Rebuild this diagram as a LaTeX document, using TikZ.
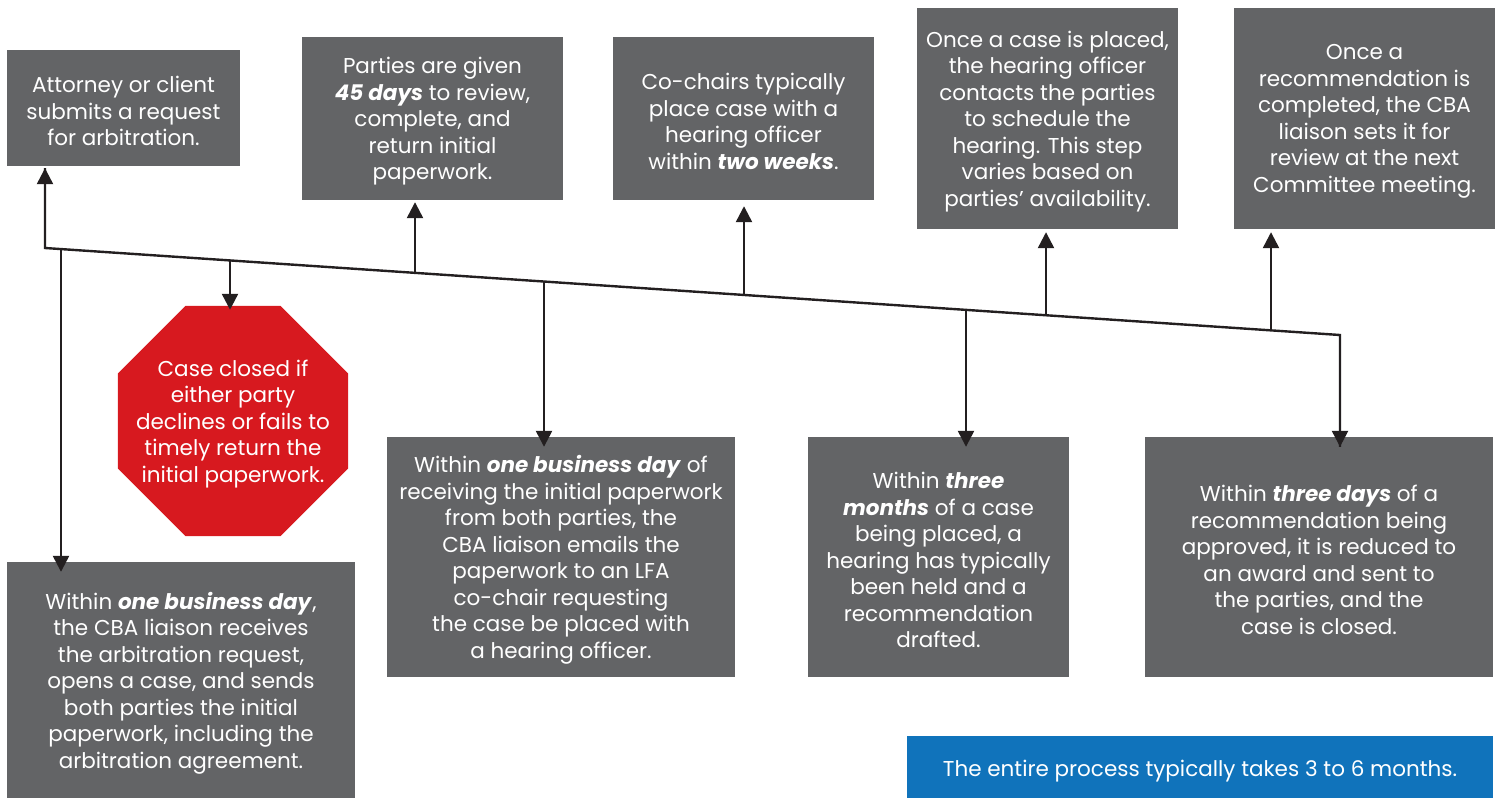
\documentclass[tikz,border=0pt]{standalone}
\usepackage{fontspec}
\setmainfont{Poppins}
\usetikzlibrary{shapes.geometric,arrows.meta}
\definecolor{boxgray}{HTML}{636466}
\definecolor{stopred}{HTML}{D7191F}
\definecolor{noteblue}{HTML}{1073BB}
\definecolor{linecol}{HTML}{231F20}
\tikzset{
  txt/.style={text=white, align=center, inner sep=0pt, font=\fontsize{21.5}{26.5}\selectfont},
  gbox/.style={fill=boxgray, inner sep=0pt},
  conn/.style={line width=2.4pt, draw=linecol},
  arr/.style={conn, -{Triangle[length=16pt,width=16pt]}},
}
\begin{document}
\begin{tikzpicture}[x=1pt,y=-1pt]
\useasboundingbox (0,0) rectangle (1498,798);
% boxes
\node[gbox, minimum width=233, minimum height=116] (b1) at (123.5,108) {};
\node[txt] (b1t) at ([yshift=-3pt]b1.center) {Attorney or client\\submits a request\\for arbitration.};
\node[gbox, minimum width=261, minimum height=163] (b2) at (432.5,118.5) {};
\node[txt] (b2t) at ([yshift=-3pt]b2.center) {Parties are given\\\textbf{\textit{45 days}} to review,\\complete, and\\return initial\\paperwork.};
\node[gbox, minimum width=261, minimum height=163] (b3) at (743.5,118.5) {};
\node[txt] (b3t) at ([yshift=-3pt]b3.center) {Co-chairs typically\\place case with a\\hearing officer\\within \textbf{\textit{two weeks}}.};
\node[gbox, minimum width=261, minimum height=221] (b4) at (1047.5,118.5) {};
\node[txt] (b4t) at ([yshift=-3pt]b4.center) {Once a case is placed,\\the hearing officer\\contacts the parties\\to schedule the\\hearing. This step\\varies based on\\parties’ availability.};
\node[gbox, minimum width=261, minimum height=221] (b5) at (1364.5,118.5) {};
\node[txt] (b5t) at ([yshift=-3pt]b5.center) {Once a\\recommendation is\\completed, the CBA\\liaison sets it for\\review at the next\\Committee meeting.};
\node[regular polygon, regular polygon sides=8, minimum size=249, fill=stopred, inner sep=0pt] (oct) at (233,421) {};
\node[txt] (octt) at ([yshift=-3pt]oct.center) {Case closed if\\either party\\declines or fails to\\timely return the\\initial paperwork.};
\node[gbox, minimum width=348, minimum height=236] (b7) at (181,680) {};
\node[txt] (b7t) at ([yshift=-3pt]b7.center) {Within \textbf{\textit{one business day}},\\the CBA liaison receives\\the arbitration request,\\opens a case, and sends\\both parties the initial\\paperwork, including the\\arbitration agreement.};
\node[gbox, minimum width=348, minimum height=240] (b8) at (561,557) {};
\node[txt] (b8t) at ([yshift=-3pt]b8.center) {Within \textbf{\textit{one business day}} of\\receiving the initial paperwork\\from both parties, the\\CBA liaison emails the\\paperwork to an LFA\\co-chair requesting\\the case be placed with\\a hearing officer.};
\node[gbox, minimum width=261, minimum height=240] (b9) at (938.5,557) {};
\node[txt] (b9t) at ([yshift=-3pt]b9.center) {Within \textbf{\textit{three}}\\\textbf{\textit{months}} of a case\\being placed, a\\hearing has typically\\been held and a\\recommendation\\drafted.};
\node[gbox, minimum width=348, minimum height=240] (b10) at (1319,557) {};
\node[txt] (b10t) at ([yshift=-3pt]b10.center) {Within \textbf{\textit{three days}} of a\\recommendation being\\approved, it is reduced to\\an award and sent to\\the parties, and the\\case is closed.};
\node[gbox, fill=noteblue, minimum width=586, minimum height=62] (note) at (1200,767) {};
\node[txt] (notet) at ([yshift=-4pt]note.center) {The entire process typically takes 3 to 6 months.};
% timeline
\coordinate (j0) at (45,248);
\coordinate (j1) at (61,249.1);
\coordinate (j2) at (230,260.4);
\coordinate (j3) at (415,272.9);
\coordinate (j4) at (544,281.5);
\coordinate (j5) at (744,295.0);
\coordinate (j6) at (966,309.9);
\coordinate (j7) at (1046,315.3);
\coordinate (j8) at (1271,330.4);
\coordinate (j9) at (1340,335);
\draw[conn, line join=miter] ([yshift=-2]j0 |- b1.south) -- (j0) -- (j9) -- ([yshift=-10]j9 |- b10.north);
\draw[arr] (j0) -- ([yshift=-2]j0 |- b1.south);
\draw[arr] (j1) -- ([yshift=-10]j1 |- b7.north);
\draw[arr] (j2) -- ([yshift=-4]j2 |- oct.north);
\draw[arr] (j3) -- ([yshift=-2]j3 |- b2.south);
\draw[arr] (j4) -- ([yshift=-10]j4 |- b8.north);
\draw[arr] (j5) -- ([yshift=-6]j5 |- b3.south);
\draw[arr] (j6) -- ([yshift=-10]j6 |- b9.north);
\draw[arr] (j7) -- ([yshift=-3]j7 |- b4.south);
\draw[arr] (j8) -- ([yshift=-3]j8 |- b5.south);
\draw[arr] (j9) -- ([yshift=-10]j9 |- b10.north);
\end{tikzpicture}
\end{document}
